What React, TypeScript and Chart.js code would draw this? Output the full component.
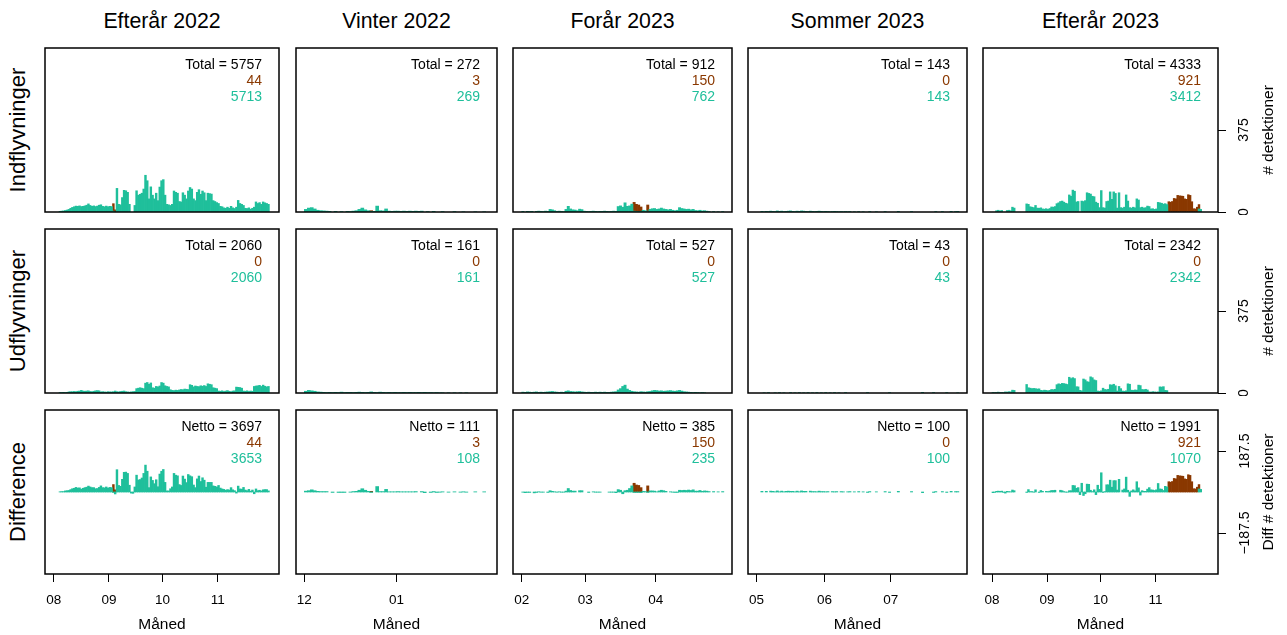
import React, { useEffect, useRef } from "react";
import { Chart, registerables } from "chart.js";

Chart.register(...registerables);

const FONT = "'Liberation Sans', Arial, Helvetica, sans-serif";
const TEAL = "#1FBF9B";
const BROWN = "#8A3800";

// ---------- data: daily counts, index = day from the first day of the first month ----------
// Efterår 2022 (day 0 = 1 Aug 2022)
const efterar22In = [0,0,0, 3,4,5,7,9,12,17,21,24,27, 26,28,25,26,28,31,37,30,26,28,25,27,31,33,26,24,27,24,26,25, 4,0, 108,35,33,66,99,97,90,35,0,0,30,97,77,81,86,105,168,143,60,115,77,60,86,52,114,143,148,77, 35,33,30,35,96,90,86,48,46,88,77,60,96,112,105,60,52,90,102,81,96,88,52,86,84,82,52,48,43,39, 26,24,19,17,22,17,26,19,16,22,53,39,35,30,17,16,19,13,17,22,46,39,43,35,46,42,39,35,0];
const efterar22Out = [0,0,0, 2,2,3,2,3, 5,6,6,7,6,8, 9,12,9,8,9,10, 7,6,8,10,11,10, 5,6,5,4,6,5,5,6,9, 6,5,7,8,9,6,5,4,5,6,7, 20,22,24,22,20, 45,48,40,46, 24,22, 30,28,32, 48,45, 33,30,28, 15,12,11,13,12, 14,16,15,18,17,16, 38,35, 28,32,30,29,33,31,34,30, 42,40,38, 24,22,20, 9,8,10,7,9,11,8,6,9,10, 27,26,25,22, 9,8,10,7,9,8, 30,32,33,35,30,36,31,28,30, 0];
const efterar22BrownStart = 33;
const efterar22Brown = [34, 10];

// Vinter 2022 (day 0 = 1 Dec 2022)
const vinter22In = [12,18,20,14,8,6,5,4, 3,0,3,0,2,0,3,2,4, 6,12,18,10,6, 3,3, 27,6, 5,14, 4,3,4,4,3,4,3,4,3,4,3,4, 0,2,0,3,0,0,2,0,0,0,2,0,0,1,0,0,0,1,0,0,1,0,0];
const vinter22Out = [8,12,10,8,5,4,3,2, 3,2,3,2,4,2,3,3,2,3,4,3,2,3,5,3,2,4,3,2, 3,2,3,2,2,3,2,3,2,2,3,2,3,2,2,1,2,1, 1,0,1,0,1,0,1,0,1,0, 0,0,0,0,0,0,0];
const vinter22BrownStart = 22;
const vinter22Brown = [3];

// Forår 2023 (day 0 = 1 Feb 2023)
const forar23In = [3,0,3,2,3,0,3,4,3,2,4,3, 12,10,6, 3,4,3,2, 12,26,14, 10,9,6, 13,11,4, 3,2,3,4,3,2,3,3,4,3,2,3,4,3, 25,28,22, 42, 26,28, 36, 4,3,2,3,8,6,4,12, 15,16,12,14,18,14,12, 10,12,8, 6,8, 20,16, 14,12,13,10,12, 7,6,8,5,6,4, 2,0,2,0,1,0,2, 0,0,0,0];
const forar23Out = [4,3,5,4,3,4,5,3,4,3,4,5, 6,7,5,4,3,4,3, 8,10,7,6,5,6,7,5,4, 3,4,3,3,4,3,4,3,4,3,3,4,5,6, 14,20,30,36,18,12, 8,6,5,4,6,5,4,6,7, 10,12,11,9,10,8,9,10,11,9,8,10,12,9, 6,5,4,3,2,3,2,1,2,1,0, 0,0,0,0,0,0,0,0,0,0,0];
const forar23BrownStart = 49;
const forar23Brown = [40, 32, 30, 20, 0, 0, 28];

// Sommer 2023 (day 0 = 1 May 2023)
const sommer23In = [0,0, 3,1,3,2,4,3,2,5,3,4, 2,3,4,5,3,2,4,3,5,4, 3,2,4,3,2,3,4,3,2,3, 2,1,2,3,2,1,2,1,2,1, 2, 0,1,0,2,0,1,0,0, 2,0,0,1,0,0,0,2, 0,0,0,0,0, 3, 0,0,0,0,0, 2, 0,0,0,0,0,0,0,0,0,0, 2,0,0,2, 0,0,0, 3,0,2,3, 0,0,0,0];
const sommer23Out = [0,0,0, 1,0,2,0,0,1,0,2,0,1, 0,0,2,0,1,0,2,0,1,0, 2,0,1,0,2,0,1,0,2,0, 1,0,2,0,1,0,0,2,0,0, 0,0,0,0,0,0,0, 2, 0,0,0,0,0,0,0,0,0, 2, 0,0,0,0,0,0,0,0,0,0,0,0,0,0, 3, 0,0,0,0, 2, 0,0,0,0,0, 2, 0,0,0,0, 1, 0,0,0,0];
const sommer23BrownStart = 0;
const sommer23Brown: number[] = [];

// Efterår 2023 (day 0 = 1 Aug 2023)
const efterar23In = [0,0, 6,8,5,7, 0,0, 7,8,6, 22,18, 0,0,0,0,0,0, 37,35, 24,22,20,30, 18,17,19, 14,13,15,12,16, 23,22,25, 38,42,48,50,45, 40,38, 78,72, 100,95, 46,48, 0, 50,48,52, 88,85,82, 72,70, 45,40, 20, 98,20, 18, 48,50, 92, 58, 92,85, 18, 88, 20,18,22, 78,50, 20,18,22,19, 60,55, 20,22,18,20, 27,25, 14,15,12,14, 44,42,40, 36,38,34, 0,0,0,0,0,0,0,0,0,0,0,0,0,0,0,0,0, 14,12, 0,0,0,0,0];
const efterar23Out = [3,2,3,4,2,3,2, 5,4,6,5, 13,12, 0,0,0,0,0,0, 39, 24,22,20,21, 20,18,19, 12,11,13,12,10,12, 16,15,17, 38,42,40,44,43,41,39, 72,66, 70,66, 29,28, 12,10, 64,60, 52,50, 74,70, 60,57, 9,8,10, 22, 16,15,17, 38,36,40,33, 9,30, 20, 9,8,10, 42,40, 13,12,14,13, 36,34, 16,15,17,14, 5,4,6,5,4,5, 28,27,29, 12,11, 0,0,0,0,0,0,0,0,0,0,0,0,0,0,0,0,0,0,0,0,0,0,0,0];
const efterar23BrownStart = 99;
const efterar23Brown = [47,45,48,62,60,76,74,73,72,60,58,79,76,47,15,14,22,20];

// ---------- labels and printed totals ----------
const seasonTitles = ["Efterår 2022", "Vinter 2022", "Forår 2023", "Sommer 2023", "Efterår 2023"];
const rowTitles = ["Indflyvninger", "Udflyvninger", "Difference"];
const rightTitles = ["# detektioner", "# detektioner", "Diff # detektioner"];
const monthTickDays = [[0, 31, 61, 92], [0, 31], [0, 28, 59], [0, 31, 61], [0, 31, 61, 92]];
const monthTickLabels = [["08", "09", "10", "11"], ["12", "01"], ["02", "03", "04"], ["05", "06", "07"], ["08", "09", "10", "11"]];
const dayRangeMin = [-4.87, -2.8, -3.84, -3.82, -5.07];
const dayRangeMax = [126.4, 64.8, 92.6, 95.7, 127.2];
const countTicks = [0, 375];
const diffTicks = [-187.5, 187.5];

const inTotal = [5757, 272, 912, 143, 4333];
const inBrownTotal = [44, 3, 150, 0, 921];
const inTealTotal = [5713, 269, 762, 143, 3412];
const outTotal = [2060, 161, 527, 43, 2342];
const outBrownTotal = [0, 0, 0, 0, 0];
const outTealTotal = [2060, 161, 527, 43, 2342];
const nettoTotal = [3697, 111, 385, 100, 1991];
const nettoBrownTotal = [44, 3, 150, 0, 921];
const nettoTealTotal = [3653, 108, 235, 100, 1070];

const seasonIn = [efterar22In, vinter22In, forar23In, sommer23In, efterar23In];
const seasonOut = [efterar22Out, vinter22Out, forar23Out, sommer23Out, efterar23Out];
const seasonBrownStart = [efterar22BrownStart, vinter22BrownStart, forar23BrownStart, sommer23BrownStart, efterar23BrownStart];
const seasonBrown = [efterar22Brown, vinter22Brown, forar23Brown, sommer23Brown, efterar23Brown];

// ---------- layout (pixels) ----------
const PAGE_W = 1287;
const PAGE_H = 635;
const M = 3;
const COL_LEFT = [45, 296, 513, 748, 983];
const COL_RIGHT = [279, 497, 732, 967, 1218];
const ROW_TOP = [48, 229, 410];
const ROW_BOTTOM = [212, 393, 574];

const panelDecor = {
  id: "panelDecor",
  afterDraw(chart: any, _args: any, opts: any) {
    const { ctx, chartArea } = chart;
    const { left, top, right, bottom } = chartArea;
    ctx.save();
    ctx.strokeStyle = "#000";
    ctx.lineWidth = 1.5;
    ctx.strokeRect(left, top, right - left, bottom - top);
    ctx.font = `14px ${FONT}`;
    ctx.textAlign = "right";
    ctx.textBaseline = "middle";
    (opts.lines || []).forEach((ln: any, i: number) => {
      ctx.fillStyle = ln.color;
      ctx.fillText(ln.text, right - 17, top + 17 + i * 16);
    });
    ctx.restore();
  },
};

function expandBrown(col: number, len: number) {
  const arr = new Array(len).fill(0);
  seasonBrown[col].forEach((v, i) => {
    arr[seasonBrownStart[col] + i] = v;
  });
  return arr;
}

function toPoints(arr: number[]) {
  return arr.map((v, i) => ({ x: i + 0.5, y: v === 0 ? null : v }));
}

function fmtTick(v: number) {
  return v < 0 ? "\u2212" + Math.abs(v) : String(v);
}

function buildConfig(col: number, row: number): any {
  const isRight = col === 4;
  const isBottom = row === 2;
  const inArr = seasonIn[col];
  const outArr = seasonOut[col];
  const brownIn = expandBrown(col, inArr.length);
  let teal: number[];
  let brown: number[];
  let lines: { text: string; color: string }[];
  if (row === 0) {
    teal = inArr;
    brown = brownIn;
    lines = [
      { text: `Total = ${inTotal[col]}`, color: "#000" },
      { text: String(inBrownTotal[col]), color: BROWN },
      { text: String(inTealTotal[col]), color: TEAL },
    ];
  } else if (row === 1) {
    teal = outArr;
    brown = outArr.map(() => 0);
    lines = [
      { text: `Total = ${outTotal[col]}`, color: "#000" },
      { text: String(outBrownTotal[col]), color: BROWN },
      { text: String(outTealTotal[col]), color: TEAL },
    ];
  } else {
    teal = inArr.map((v, i) => v - (outArr[i] || 0));
    brown = brownIn;
    lines = [
      { text: `Netto = ${nettoTotal[col]}`, color: "#000" },
      { text: String(nettoBrownTotal[col]), color: BROWN },
      { text: String(nettoTealTotal[col]), color: TEAL },
    ];
  }

  const yTicks = row === 2 ? diffTicks : countTicks;

  return {
    type: "bar",
    data: {
      datasets: [
        {
          data: toPoints(teal),
          backgroundColor: TEAL,
          borderWidth: 0,
          barPercentage: 1,
          categoryPercentage: 1,
          stack: "s",
        },
        {
          data: toPoints(brown),
          backgroundColor: BROWN,
          borderWidth: 0,
          barPercentage: 1,
          categoryPercentage: 1,
          stack: "s",
        },
      ],
    },
    options: {
      animation: false,
      responsive: false,
      maintainAspectRatio: false,
      events: [],
      layout: {
        padding: { left: M, top: M, right: isRight ? 0 : M, bottom: isBottom ? 0 : M },
      },
      plugins: {
        legend: { display: false },
        tooltip: { enabled: false },
        panelDecor: { lines },
      },
      scales: {
        x: {
          type: "linear",
          min: dayRangeMin[col],
          max: dayRangeMax[col],
          offset: false,
          stacked: true,
          display: isBottom,
          grid: {
            display: true,
            drawOnChartArea: false,
            drawTicks: true,
            tickLength: 8,
            color: "#000",
            lineWidth: 1,
            offset: false,
          },
          border: { display: false },
          ticks: {
            font: { family: FONT, size: 13.5 },
            color: "#000",
            padding: 10,
            minRotation: 0,
            maxRotation: 0,
            autoSkip: false,
            callback: (_v: any, i: number) => monthTickLabels[col][i],
          },
          title: {
            display: true,
            text: "Måned",
            font: { family: FONT, size: 15.5 },
            color: "#000",
            padding: { top: 0, bottom: 1 },
          },
          afterBuildTicks: (s: any) => {
            s.ticks = monthTickDays[col].map((v) => ({ value: v }));
          },
          afterFit: (s: any) => {
            if (!isBottom) return;
            s.height = 61;
            s.paddingLeft = 0;
            s.paddingRight = 0;
          },
        },
        y: {
          type: "linear",
          position: "right",
          min: row === 2 ? -375 : 0,
          max: row === 2 ? 375 : 750,
          stacked: true,
          display: isRight,
          grid: {
            display: true,
            drawOnChartArea: false,
            drawTicks: true,
            tickLength: 8,
            color: "#000",
            lineWidth: 1,
          },
          border: { display: false },
          ticks: {
            font: { family: FONT, size: 14 },
            color: "#000",
            padding: row === 2 ? -2 : 6,
            minRotation: 90,
            maxRotation: 90,
            crossAlign: "center",
            autoSkip: false,
            callback: (v: any) => fmtTick(Number(v)),
          },
          afterBuildTicks: (s: any) => {
            s.ticks = yTicks.map((v) => ({ value: v }));
          },
          afterFit: (s: any) => {
            if (!isRight) return;
            s.width = 69;
            s.paddingTop = 0;
            s.paddingBottom = 0;
          },
        },
      },
    },
    plugins: [panelDecor],
  };
}

function Panel({ col, row }: { col: number; row: number }) {
  const ref = useRef<HTMLCanvasElement | null>(null);
  const isRight = col === 4;
  const isBottom = row === 2;
  const left = COL_LEFT[col] - M;
  const top = ROW_TOP[row] - M;
  const width = isRight ? PAGE_W - left : COL_RIGHT[col] - COL_LEFT[col] + 2 * M;
  const height = isBottom ? PAGE_H - top : ROW_BOTTOM[row] - ROW_TOP[row] + 2 * M;

  useEffect(() => {
    if (!ref.current) return;
    const chart = new Chart(ref.current, buildConfig(col, row));
    return () => chart.destroy();
  }, [col, row]);

  return (
    <canvas
      ref={ref}
      width={width}
      height={height}
      style={{ position: "absolute", left, top, width, height, display: "block" }}
    />
  );
}

function centered(x: number, y: number, size: number, rotate = false): React.CSSProperties {
  return {
    position: "absolute",
    left: x,
    top: y,
    transform: rotate ? "translate(-50%, -50%) rotate(-90deg)" : "translate(-50%, -50%)",
    fontFamily: FONT,
    fontSize: size,
    lineHeight: 1,
    whiteSpace: "nowrap",
    color: "#000",
  };
}

export default function App() {
  const cells: { col: number; row: number }[] = [];
  for (let r = 0; r < 3; r++) for (let c = 0; c < 5; c++) cells.push({ col: c, row: r });

  return (
    <div
      style={{
        position: "absolute",
        left: 0,
        top: 0,
        width: PAGE_W,
        height: PAGE_H,
        overflow: "hidden",
        background: "#fff",
      }}
    >
      {cells.map(({ col, row }) => (
        <Panel key={`${col}-${row}`} col={col} row={row} />
      ))}
      {seasonTitles.map((t, c) => (
        <div key={`t${c}`} style={centered((COL_LEFT[c] + COL_RIGHT[c]) / 2, 21.5, 21.3)}>
          {t}
        </div>
      ))}
      {rowTitles.map((t, r) => (
        <div key={`r${r}`} style={centered(18, (ROW_TOP[r] + ROW_BOTTOM[r]) / 2, 22, true)}>
          {t}
        </div>
      ))}
      {rightTitles.map((t, r) => (
        <div key={`rt${r}`} style={centered(1268, (ROW_TOP[r] + ROW_BOTTOM[r]) / 2, 15.5, true)}>
          {t}
        </div>
      ))}
    </div>
  );
}
